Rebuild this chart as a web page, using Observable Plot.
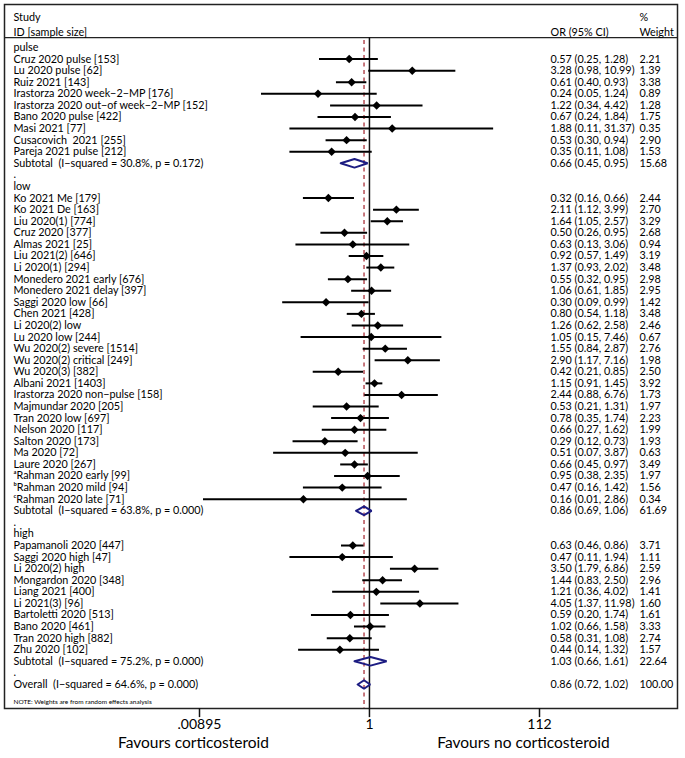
<!DOCTYPE html>
<html><head><meta charset="utf-8">
<script src="https://cdn.jsdelivr.net/npm/d3@7"></script>
<script src="https://cdn.jsdelivr.net/npm/@observablehq/plot@0.6"></script>
<style>body{margin:0;background:#fff} svg{display:block} text{white-space:pre}</style>
</head><body><div id="chart"></div>
<script>
// ---- data ----
const groupNames = ["pulse", "low", "high"];

const pulseStudies = ["Cruz 2020 pulse [153]", "Lu 2020 pulse [62]", "Ruiz 2021 [143]", "Irastorza 2020 week\u22122\u2212MP [176]", "Irastorza 2020 out\u2212of week\u22122\u2212MP [152]", "Bano 2020 pulse [422]", "Masi 2021 [77]", "Cusacovich  2021 [255]", "Pareja 2021 pulse [212]"];
const pulseOR = [0.57, 3.28, 0.61, 0.24, 1.22, 0.67, 1.88, 0.53, 0.35];
const pulseLower = [0.25, 0.98, 0.40, 0.05, 0.34, 0.24, 0.11, 0.30, 0.11];
const pulseUpper = [1.28, 10.99, 0.93, 1.24, 4.42, 1.84, 31.37, 0.94, 1.08];
const pulseWeight = [2.21, 1.39, 3.38, 0.89, 1.28, 1.75, 0.35, 2.90, 1.53];

const lowStudies = ["Ko 2021 Me [179]", "Ko 2021 De [163]", "Liu 2020(1) [774]", "Cruz 2020 [377]", "Almas 2021 [25]", "Liu 2021(2) [646]", "Li 2020(1) [294]", "Monedero 2021 early [676]", "Monedero 2021 delay [397]", "Saggi 2020 low [66]", "Chen 2021 [428]", "Li 2020(2) low", "Lu 2020 low [244]", "Wu 2020(2) severe [1514]", "Wu 2020(2) critical [249]", "Wu 2020(3) [382]", "Albani 2021 [1403]", "Irastorza 2020 non\u2212pulse [158]", "Majmundar 2020 [205]", "Tran 2020 low [697]", "Nelson 2020 [117]", "Salton 2020 [173]", "Ma 2020 [72]", "Laure 2020 [267]", "\u1d43Rahman 2020 early [99]", "\u1d47Rahman 2020 mild [94]", "\u1d9cRahman 2020 late [71]"];
const lowOR = [0.32, 2.11, 1.64, 0.50, 0.63, 0.92, 1.37, 0.55, 1.06, 0.30, 0.80, 1.26, 1.05, 1.55, 2.90, 0.42, 1.15, 2.44, 0.53, 0.78, 0.66, 0.29, 0.51, 0.66, 0.95, 0.47, 0.16];
const lowLower = [0.16, 1.12, 1.05, 0.26, 0.13, 0.57, 0.93, 0.32, 0.61, 0.09, 0.54, 0.62, 0.15, 0.84, 1.17, 0.21, 0.91, 0.88, 0.21, 0.35, 0.27, 0.12, 0.07, 0.45, 0.38, 0.16, 0.01];
const lowUpper = [0.66, 3.99, 2.57, 0.95, 3.06, 1.49, 2.02, 0.95, 1.85, 0.99, 1.18, 2.58, 7.46, 2.87, 7.16, 0.85, 1.45, 6.76, 1.31, 1.74, 1.62, 0.73, 3.87, 0.97, 2.35, 1.42, 2.86];
const lowWeight = [2.44, 2.70, 3.29, 2.68, 0.94, 3.19, 3.48, 2.98, 2.95, 1.42, 3.48, 2.46, 0.67, 2.76, 1.98, 2.50, 3.92, 1.73, 1.97, 2.23, 1.99, 1.93, 0.63, 3.49, 1.97, 1.56, 0.34];

const highStudies = ["Papamanoli 2020 [447]", "Saggi 2020 high [47]", "Li 2020(2) high", "Mongardon 2020 [348]", "Liang 2021 [400]", "Li 2021(3) [96]", "Bartoletti 2020 [513]", "Bano 2020 [461]", "Tran 2020 high [882]", "Zhu 2020 [102]"];
const highOR = [0.63, 0.47, 3.50, 1.44, 1.21, 4.05, 0.59, 1.02, 0.58, 0.44];
const highLower = [0.46, 0.11, 1.79, 0.83, 0.36, 1.37, 0.20, 0.66, 0.31, 0.14];
const highUpper = [0.86, 1.94, 6.86, 2.50, 4.02, 11.98, 1.74, 1.58, 1.08, 1.32];
const highWeight = [3.71, 1.11, 2.59, 2.96, 1.41, 1.60, 1.61, 3.33, 2.74, 1.57];

const subtotalLabels = ["Subtotal  (I\u2212squared = 30.8%, p = 0.172)", "Subtotal  (I\u2212squared = 63.8%, p = 0.000)", "Subtotal  (I\u2212squared = 75.2%, p = 0.000)"];
const subtotalOR = [0.66, 0.86, 1.03];
const subtotalLower = [0.45, 0.69, 0.66];
const subtotalUpper = [0.95, 1.06, 1.61];
const subtotalWeight = [15.68, 61.69, 22.64];

const overallLabel = "Overall  (I\u2212squared = 64.6%, p = 0.000)";
const overallOR = 0.86, overallLower = 0.72, overallUpper = 1.02, overallWeight = 100.00;

const xTicks = [0.00895, 1, 112];
const xTickLabels = [".00895", "1", "112"];
const headerLeft = ["Study", "ID [sample size]"];
const headerOR = "OR (95% CI)";
const headerWeight = ["%", "Weight"];
const sideLabels = ["Favours corticosteroid", "Favours no corticosteroid"];
const noteText = "NOTE: Weights are from random effects analysis";

// ---- build table ----
const groups = [
  {studies: pulseStudies, or: pulseOR, lo: pulseLower, hi: pulseUpper, w: pulseWeight},
  {studies: lowStudies, or: lowOR, lo: lowLower, hi: lowUpper, w: lowWeight},
  {studies: highStudies, or: highOR, lo: highLower, hi: highUpper, w: highWeight}
];
const rows = [];
let r = 0;
groups.forEach((g, gi) => {
  rows.push({row: r++, label: groupNames[gi], kind: "group"});
  g.studies.forEach((s, i) => rows.push({row: r++, label: s, or: g.or[i], lo: g.lo[i], hi: g.hi[i], w: g.w[i], kind: "study"}));
  rows.push({row: r++, label: subtotalLabels[gi], or: subtotalOR[gi], lo: subtotalLower[gi], hi: subtotalUpper[gi], w: subtotalWeight[gi], kind: "summary"});
  rows.push({row: r++, label: ".", kind: "spacer"});
});
rows.push({row: r++, label: overallLabel, or: overallOR, lo: overallLower, hi: overallUpper, w: overallWeight, kind: "summary"});
const lastRow = r - 1;

const f2 = v => v.toFixed(2);
const withValues = rows.filter(d => d.or != null);
withValues.forEach(d => { d.ci = `${f2(d.or)} (${f2(d.lo)}, ${f2(d.hi)})`; d.wt = f2(d.w); });
const studies = rows.filter(d => d.kind === "study");
const summaries = rows.filter(d => d.kind === "summary");
const dh = 0.37;
const diamondPts = summaries.flatMap((d, i) => [
  {id: i, x: d.lo, y: d.row}, {id: i, x: d.or, y: d.row - dh}, {id: i, x: d.hi, y: d.row},
  {id: i, x: d.or, y: d.row + dh}, {id: i, x: d.lo, y: d.row}
]);

// layout (rows relative)
const sepRow = -0.86;
const bottomRow = lastRow + 2.08;

const W = 685, H = 758;
const FONT = "Lato";
const FS = 10.8;
const tickLabel = d => xTickLabels[d3.minIndex(xTicks, t => Math.abs(Math.log(t / d)))];
const chart = Plot.plot({
  width: W, height: H,
  marginLeft: 4, marginRight: 8, marginTop: 4, marginBottom: 50,
  style: {fontFamily: FONT, fontSize: "10px", background: "white", color: "black"},
  x: {type: "log", domain: [xTicks[0], xTicks[2]], range: [199, 539], axis: null},
  y: {domain: [0, lastRow], range: [47, 684], axis: null},
  marks: [
    Plot.frame({stroke: "#222", strokeWidth: 1.5}),
    Plot.ruleY([sepRow], {stroke: "#222", strokeWidth: 1.2}),
    Plot.ruleX([overallOR], {y1: sepRow + 0.25, y2: bottomRow, stroke: "#a3212b", strokeWidth: 1.2, strokeDasharray: "4,3.5"}),
    Plot.ruleX([1], {y1: sepRow, y2: bottomRow, stroke: "#111", strokeWidth: 1.5}),
    Plot.ruleY(studies, {y: "row", x1: "lo", x2: "hi", stroke: "black", strokeWidth: 2}),
    Plot.dot(studies, {x: "or", y: "row", symbol: "diamond2", r: 3.8, fill: "black", stroke: "none"}),
    Plot.line(diamondPts, {x: "x", y: "y", z: "id", stroke: "#1c1c82", strokeWidth: 2, strokeLinejoin: "miter"}),
    Plot.ruleX(xTicks, {y1: bottomRow, y2: bottomRow + 0.78, stroke: "#111", strokeWidth: 1.5}),
    Plot.text(xTicks, {x: d => d, text: tickLabel, frameAnchor: "bottom", dy: 20, fontSize: 14}),
    // left text column
    Plot.text(rows, {y: "row", text: "label", frameAnchor: "left", dx: 9, textAnchor: "start", fontSize: FS, fill: "black"}),
    Plot.text(withValues, {y: "row", text: "ci", frameAnchor: "right", dx: -127, textAnchor: "start", fontSize: FS, fill: "black"}),
    Plot.text(withValues, {y: "row", text: "wt", frameAnchor: "right", dx: -38, textAnchor: "start", fontSize: FS, fill: "black"}),
    // header
    Plot.text([headerLeft[0]], {frameAnchor: "top-left", dx: 9, dy: 9, textAnchor: "start", fontSize: FS}),
    Plot.text([headerLeft[1]], {frameAnchor: "top-left", dx: 9, dy: 24, textAnchor: "start", fontSize: FS}),
    Plot.text([headerOR], {frameAnchor: "top-right", dx: -127, dy: 24, textAnchor: "start", fontSize: FS}),
    Plot.text([headerWeight[0]], {frameAnchor: "top-right", dx: -38, dy: 9, textAnchor: "start", fontSize: FS}),
    Plot.text([headerWeight[1]], {frameAnchor: "top-right", dx: -38, dy: 24, textAnchor: "start", fontSize: FS}),
    Plot.text([noteText], {frameAnchor: "bottom-left", dx: 9, dy: -5, textAnchor: "start", fontSize: 6.5}),
    Plot.text([sideLabels[0]], {x: [xTicks[0]], frameAnchor: "bottom", dy: 39, dx: -6, fontSize: 15.5}),
    Plot.text([sideLabels[1]], {x: [xTicks[2]], frameAnchor: "bottom", dy: 39, dx: -16, fontSize: 15.5})
  ]
});
document.getElementById("chart").appendChild(chart);
</script>
</body></html>
